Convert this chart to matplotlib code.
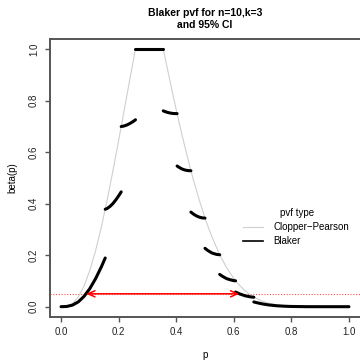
import matplotlib
matplotlib.use('Agg')
import matplotlib.pyplot as plt
from matplotlib.lines import Line2D

plt.rcParams['font.family'] = ['Liberation Sans', 'DejaVu Sans']

# Clopper-Pearson pvf (gray), left rising part and right falling part
cp_p_left = [0.0, 0.02, 0.04, 0.06, 0.08, 0.10, 0.12, 0.14, 0.16, 0.18, 0.20, 0.22, 0.24, 0.2586]
cp_v_left = [0.0, 0.0017, 0.0124, 0.0376, 0.0802, 0.1404, 0.2174, 0.3090, 0.4128, 0.5256,
             0.6444, 0.7664, 0.8883, 1.0]
cp_p_top = [0.2586, 0.3551]
cp_v_top = [1.0, 1.0]
cp_p_right = [0.3551, 0.36, 0.37, 0.38, 0.39, 0.40, 0.41, 0.42, 0.43, 0.44, 0.45, 0.46, 0.48,
              0.50, 0.52, 0.55, 0.575, 0.60, 0.62, 0.64, 0.66, 0.68, 0.70, 0.72, 0.75, 0.78,
              0.80, 0.85, 0.90, 1.0]
cp_v_right = [1.0, 0.9736, 0.9200, 0.8672, 0.8154, 0.7646, 0.7151, 0.6672, 0.6212, 0.5770,
              0.5321, 0.4917, 0.4144, 0.3438, 0.2820, 0.2040, 0.1515, 0.1095, 0.0827, 0.0611,
              0.0441, 0.0310, 0.0212, 0.0140, 0.0070, 0.0032, 0.0017, 0.0003, 0.0, 0.0]

# Blaker pvf, one piece per continuous segment
blaker_p1 = [0.0, 0.02, 0.04, 0.06, 0.08, 0.10, 0.12, 0.14, 0.1535]
blaker_v1 = [0.0, 0.0009, 0.0062, 0.0188, 0.0401, 0.0702, 0.1087, 0.1545, 0.189]
blaker_p2 = [0.1535, 0.16, 0.17, 0.18, 0.19, 0.20, 0.209]
blaker_v2 = [0.378, 0.381, 0.389, 0.400, 0.414, 0.430, 0.4456]
blaker_p3 = [0.209, 0.22, 0.23, 0.24, 0.25, 0.2586]
blaker_v3 = [0.699, 0.7016, 0.7058, 0.7115, 0.7185, 0.7253]
blaker_p4 = [0.2586, 0.3551]
blaker_v4 = [1.0, 1.0]
blaker_p5 = [0.3551, 0.36, 0.37, 0.38, 0.39, 0.4031]
blaker_v5 = [0.760, 0.7576, 0.7539, 0.7513, 0.7497, 0.7492]
blaker_p6 = [0.4031, 0.41, 0.42, 0.43, 0.44, 0.45, 0.4511]
blaker_v6 = [0.546, 0.5408, 0.5345, 0.5305, 0.5283, 0.5276, 0.5276]
blaker_p7 = [0.4511, 0.46, 0.47, 0.48, 0.49, 0.50]
blaker_v7 = [0.3671, 0.3593, 0.3525, 0.3476, 0.3447, 0.3438]
blaker_p8 = [0.50, 0.51, 0.525, 0.54, 0.5511]
blaker_v8 = [0.2266, 0.2178, 0.2080, 0.2030, 0.2015]
blaker_p9 = [0.5511, 0.56, 0.575, 0.5875, 0.60, 0.6062]
blaker_v9 = [0.1252, 0.1183, 0.1089, 0.1045, 0.1011, 0.1004]
blaker_p10 = [0.6062, 0.62, 0.64, 0.66, 0.6695]
blaker_v10 = [0.0568, 0.0497, 0.0421, 0.0377, 0.0368]
blaker_p11 = [0.6695, 0.68, 0.70, 0.72, 0.75, 0.78, 0.80, 0.85, 0.90, 1.0]
blaker_v11 = [0.0184, 0.0155, 0.0106, 0.0070, 0.0035, 0.0016, 0.0009, 0.0001, 0.0, 0.0]

blaker_segs = [(blaker_p1, blaker_v1), (blaker_p2, blaker_v2), (blaker_p3, blaker_v3),
               (blaker_p4, blaker_v4), (blaker_p5, blaker_v5), (blaker_p6, blaker_v6),
               (blaker_p7, blaker_v7), (blaker_p8, blaker_v8), (blaker_p9, blaker_v9),
               (blaker_p10, blaker_v10), (blaker_p11, blaker_v11)]

alpha_level = 0.05
ci_lower, ci_upper = 0.0873, 0.6194

ticks = [0.0, 0.2, 0.4, 0.6, 0.8, 1.0]
tick_labels = ['0.0', '0.2', '0.4', '0.6', '0.8', '1.0']

W, H = 360, 361
fig = plt.figure(figsize=(W / 100, H / 100), dpi=100)
ax = fig.add_axes([49.5 / W, 1 - 317 / H, 311 / W, (317 - 38.7) / H])

gray = '#cfcfcf'
for px, vy in [(cp_p_left, cp_v_left), (cp_p_top, cp_v_top), (cp_p_right, cp_v_right)]:
    ax.plot(px, vy, color=gray, lw=0.8, zorder=2)

for px, vy in blaker_segs:
    ax.plot(px, vy, color='black', lw=2.2, solid_capstyle='round', zorder=3)

ax.axhline(alpha_level, color='#ff5050', lw=0.8, ls=(0, (1, 1.5)), zorder=1)
ax.annotate('', xy=(ci_lower, alpha_level), xytext=(ci_upper, alpha_level),
            arrowprops=dict(arrowstyle='<->,head_length=0.5,head_width=0.22',
                            color='red', lw=1.1, shrinkA=0, shrinkB=0), zorder=4)

ax.set_xlim(-0.04, 1.04)
ax.set_ylim(-0.04, 1.04)
ax.set_xticks(ticks)
ax.set_xticklabels(tick_labels)
ax.set_yticks(ticks)
ax.set_yticklabels(tick_labels, rotation=90, va='center')

spine_col = '#555555'
for s in ['left', 'bottom', 'top']:
    ax.spines[s].set_color(spine_col)
    ax.spines[s].set_linewidth(1.4)
ax.spines['right'].set_visible(False)
ax.tick_params(axis='both', length=3.6, width=1.0, color=spine_col, labelsize=7,
               labelcolor='#222222')
ax.tick_params(axis='x', pad=3.5)
ax.tick_params(axis='y', pad=4)

fig.text(205 / W, 1 - 19 / H, 'Blaker pvf for n=10,k=3\nand 95% CI', ha='center',
         va='center', fontsize=7.5, fontweight='bold', linespacing=1.2)
fig.text(205 / W, 1 - 355 / H, 'p', ha='center', va='center', fontsize=7)
fig.text(12 / W, 1 - 178 / H, 'beta(p)', ha='center', va='center', rotation=90, fontsize=7)

# legend: title placed on its own, entries below
fig.text(297 / W, 1 - 213 / H, 'pvf type', ha='center', va='center', fontsize=7)
handles = [Line2D([], [], color=gray, lw=0.8), Line2D([], [], color='black', lw=1.2)]
ax.legend(handles, ['Clopper\u2212Pearson', 'Blaker'], frameon=False,
          fontsize=7, loc='upper left',
          bbox_to_anchor=(243 / W, 1 - 222 / H), bbox_transform=fig.transFigure,
          borderpad=0, borderaxespad=0, handlelength=2.1, handletextpad=1.0,
          labelspacing=0.45)

fig.savefig('out.png', dpi=100)
